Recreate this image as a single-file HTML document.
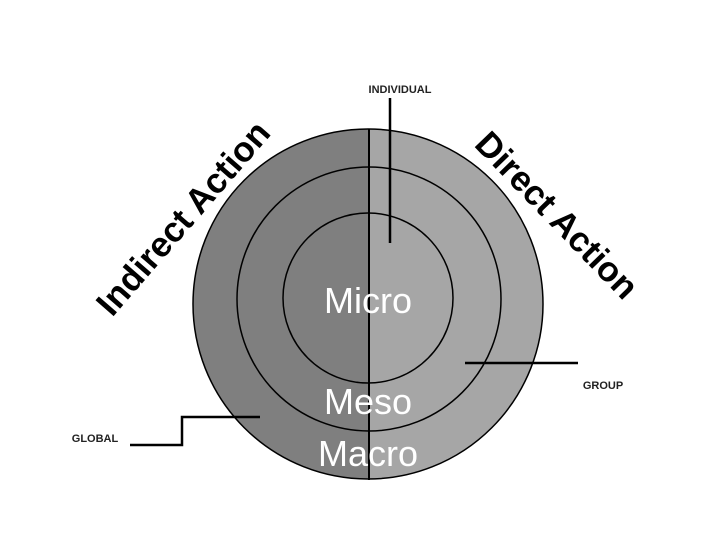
<!DOCTYPE html>
<html><head><style>
body{margin:0;width:720px;height:540px;background:#fff;overflow:hidden}
</style></head><body>
<svg width="720" height="540" xmlns="http://www.w3.org/2000/svg">
<defs><clipPath id="L"><rect x="0" y="0" width="369" height="540"/></clipPath></defs>
<circle cx="368" cy="304" r="175" fill="#a6a6a6"/>
<circle cx="368" cy="304" r="175" fill="#7f7f7f" clip-path="url(#L)"/>
<circle cx="368" cy="304" r="175" fill="none" stroke="#000" stroke-width="1.5"/>
<circle cx="369" cy="299" r="132" fill="none" stroke="#000" stroke-width="1.5"/>
<circle cx="368" cy="298" r="85" fill="none" stroke="#000" stroke-width="1.5"/>
<line x1="369" y1="129" x2="369" y2="480" stroke="#000" stroke-width="2"/>
<line x1="390" y1="98" x2="390" y2="243" stroke="#000" stroke-width="2.5"/>
<line x1="465" y1="363" x2="578" y2="363" stroke="#000" stroke-width="2.5"/>
<polyline points="130,445 182,445 182,417 260,417" fill="none" stroke="#000" stroke-width="2.5"/>
<g font-family="Liberation Sans, sans-serif" fill="#fff" text-anchor="middle" font-size="36">
<text x="368" y="313">Micro</text>
<text x="368" y="414">Meso</text>
<text x="368" y="466">Macro</text>
</g>
<g font-family="Liberation Sans, sans-serif" font-weight="bold" font-size="11" fill="#222">
<text x="400" y="93" text-anchor="middle">INDIVIDUAL</text>
<text x="603" y="389" text-anchor="middle">GROUP</text>
<text x="95" y="442" text-anchor="middle">GLOBAL</text>
</g>
<g font-family="Liberation Sans, sans-serif" font-weight="bold" font-size="35" fill="#000" text-anchor="middle">
<text transform="translate(183,218) rotate(-49)" y="12">Indirect Action</text>
<text transform="translate(557,215) rotate(46)" y="12">Direct Action</text>
</g>
</svg>
</body></html>
